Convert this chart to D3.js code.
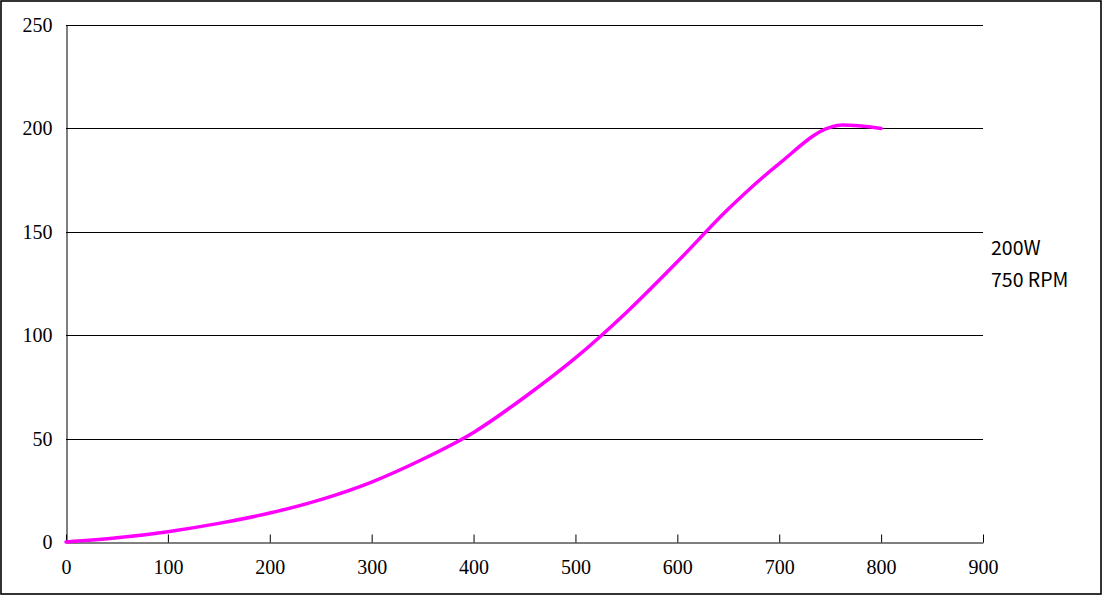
<!DOCTYPE html>
<html>
<head>
<meta charset="utf-8">
<script src="https://cdn.jsdelivr.net/npm/d3@7"></script>
<style>
  html, body { margin: 0; padding: 0; background: #fff; }
  svg { display: block; }
</style>
</head>
<body>
<svg id="chart" width="1103" height="596"></svg>
<script>
// curve
const rpm = [0, 50, 100, 150, 200, 250, 300, 350, 400, 450, 500, 550, 600, 650, 700, 750, 762, 800];
const power = [0, 2, 5, 9, 14, 20.5, 29, 40, 53, 70, 89, 111, 135.5, 161, 183, 200.5, 201.6, 200];

const xTicks = [0, 100, 200, 300, 400, 500, 600, 700, 800, 900];
const yTicks = [0, 50, 100, 150, 200, 250];
const legendLines = ['200W', '750 RPM'];

const width = 1103;
const height = 596;
const margin = { top: 25, right: 120, bottom: 54, left: 66 };

const svg = d3.select('#chart');

// outer frame
svg.append('rect')
  .attr('x', 1).attr('y', 1)
  .attr('width', width - 3).attr('height', height - 3)
  .attr('fill', 'none')
  .attr('stroke', '#000')
  .attr('stroke-width', 1.6);

const xScale = d3.scaleLinear().domain([0, 900]).range([margin.left, width - margin.right]);
const yScale = d3.scaleLinear().domain([0, 250]).range([height - margin.bottom, margin.top]);

const serif = '"Liberation Serif", "DejaVu Serif", serif';

// gridlines
svg.append('g')
  .selectAll('line')
  .data(yTicks.filter((d) => d > 0))
  .join('line')
  .attr('x1', xScale(0))
  .attr('x2', xScale(900))
  .attr('y1', (d) => Math.round(yScale(d)) + 0.5)
  .attr('y2', (d) => Math.round(yScale(d)) + 0.5)
  .attr('stroke', '#000')
  .attr('stroke-width', 1);

// y axis: line only, labels on the left
const yAxis = svg.append('g')
  .attr('transform', `translate(${xScale(0) + 0.5},0)`)
  .call(d3.axisLeft(yScale).tickValues(yTicks).tickSize(0).tickPadding(14));
yAxis.select('.domain').attr('stroke', '#000');
yAxis.selectAll('.tick text')
  .attr('font-family', serif)
  .attr('font-size', 20)
  .attr('fill', '#000');

// x axis: ticks pointing up into the plot
const xAxis = svg.append('g')
  .attr('transform', `translate(0,${Math.round(yScale(0)) + 0.5})`)
  .call(d3.axisBottom(xScale).tickValues(xTicks).tickSizeInner(-8).tickSizeOuter(0).tickPadding(17));
xAxis.select('.domain').attr('stroke', '#000');
xAxis.selectAll('.tick line').attr('stroke', '#000');
xAxis.selectAll('.tick text')
  .attr('font-family', serif)
  .attr('font-size', 20)
  .attr('fill', '#000');

// the curve
const line = d3.line()
  .x((d) => xScale(d[0]))
  .y((d) => yScale(d[1]))
  .curve(d3.curveMonotoneX);

svg.append('path')
  .datum(d3.zip(rpm, power))
  .attr('d', line)
  .attr('fill', 'none')
  .attr('stroke', '#f0f')
  .attr('stroke-width', 3.5)
  .attr('stroke-linecap', 'round')
  .attr('stroke-linejoin', 'round');

// legend text
svg.append('g')
  .selectAll('text')
  .data(legendLines)
  .join('text')
  .attr('x', 991)
  .attr('y', (d, i) => 255 + i * 32)
  .attr('font-family', '"Noto Sans CJK JP", "Noto Sans", sans-serif')
  .attr('font-size', 19.5)
  .attr('fill', '#000')
  .text((d) => d);
</script>
</body>
</html>
